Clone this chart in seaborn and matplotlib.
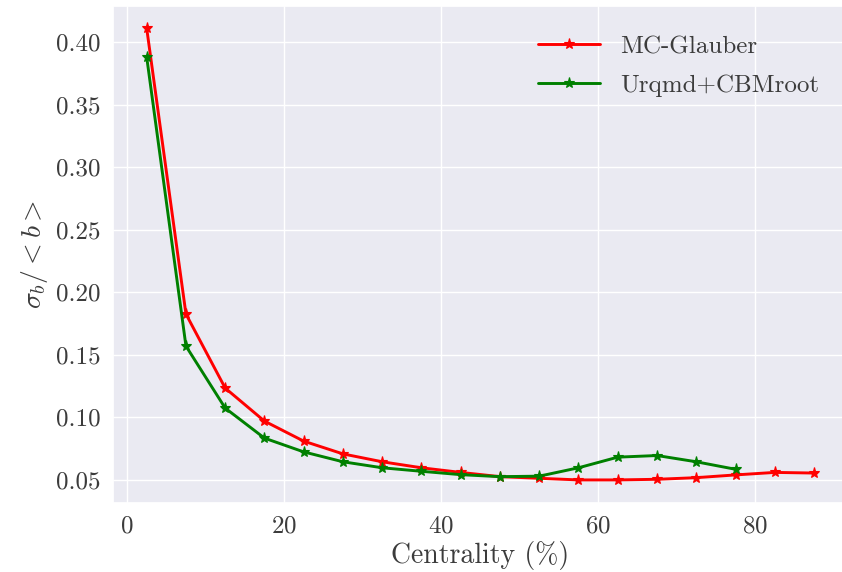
import matplotlib
matplotlib.use("Agg")
import matplotlib.pyplot as plt
import numpy as np
import pandas as pd
import seaborn as sns

# Centrality bin centres (%)
centrality_glauber = [2.5, 7.5, 12.5, 17.5, 22.5, 27.5, 32.5, 37.5, 42.5, 47.5,
                      52.5, 57.5, 62.5, 67.5, 72.5, 77.5, 82.5, 87.5]
centrality_urqmd = [2.5, 7.5, 12.5, 17.5, 22.5, 27.5, 32.5, 37.5, 42.5, 47.5,
                    52.5, 57.5, 62.5, 67.5, 72.5, 77.5]

# Relative width of the impact-parameter distribution, sigma_b / <b>
ratio_glauber = [0.411, 0.1826, 0.1234, 0.097, 0.081, 0.0708, 0.0645, 0.0597, 0.056,
                 0.0526, 0.0513, 0.0500, 0.0500, 0.0505, 0.0518, 0.054, 0.056, 0.0555]
ratio_urqmd = [0.388, 0.157, 0.1074, 0.0834, 0.0724, 0.0645, 0.0597, 0.0569, 0.0542,
               0.0526, 0.053, 0.0597, 0.0682, 0.0695, 0.0645, 0.0585]

labels = ["MC-Glauber", "Urqmd+CBMroot"]
colors = {"MC-Glauber": "red", "Urqmd+CBMroot": "green"}

df = pd.concat([
    pd.DataFrame({"centrality": centrality_glauber, "ratio": ratio_glauber, "model": labels[0]}),
    pd.DataFrame({"centrality": centrality_urqmd, "ratio": ratio_urqmd, "model": labels[1]}),
], ignore_index=True)

sns.set_theme(style="darkgrid")
plt.rcParams["font.family"] = ["cmr10", "DejaVu Serif"]
plt.rcParams["mathtext.fontset"] = "cm"
plt.rcParams["axes.formatter.use_mathtext"] = True
plt.rcParams["axes.unicode_minus"] = False

text_color = "#3c3c3c"

fig = plt.figure(figsize=(8.42, 5.72), dpi=100)
ax = fig.add_axes([0.1346, 0.1215, 0.8718, 0.8685])

sns.lineplot(data=df, x="centrality", y="ratio", hue="model", hue_order=labels,
             palette=colors, marker="*", markersize=8, linewidth=2.1,
             ax=ax, sort=False, errorbar=None)

# stars drawn in the line colour (no white outline)
for line in ax.get_lines():
    line.set_markeredgecolor(line.get_color())
    line.set_markeredgewidth(0.8)

ax.set_xticks([0, 20, 40, 60, 80])
ax.set_yticks([0.05, 0.10, 0.15, 0.20, 0.25, 0.30, 0.35, 0.40])
ax.set_yticklabels(["0.05", "0.10", "0.15", "0.20", "0.25", "0.30", "0.35", "0.40"])
ax.tick_params(labelsize=18, colors=text_color)
ax.set_xlabel("Centrality (%)", fontsize=20, color=text_color, labelpad=2)
ax.set_ylabel(r"$\sigma_b/<b>$", fontsize=20, color=text_color, labelpad=4)

leg = ax.legend(loc="upper right", fontsize=18, frameon=False,
                bbox_to_anchor=(0.992, 0.985), handlelength=2.5,
                handletextpad=0.8, labelspacing=0.65)
for t in leg.get_texts():
    t.set_color(text_color)
for h in leg.legend_handles:
    h.set_markeredgecolor(h.get_color())

fig.savefig("out.png", dpi=100)
